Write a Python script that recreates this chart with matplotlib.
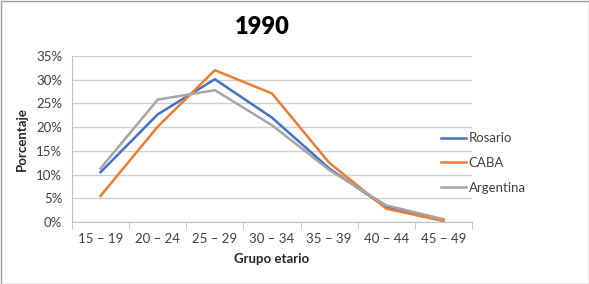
import numpy as np
import matplotlib.pyplot as plt
from matplotlib.patches import Rectangle

grupos = ["15 – 19", "20 – 24", "25 – 29", "30 – 34", "35 – 39", "40 – 44", "45 – 49"]
rosario = [10.5, 22.7, 30.1, 22.0, 11.3, 3.1, 0.4]
caba = [5.5, 20.1, 32.0, 27.1, 12.5, 2.8, 0.2]
argentina = [11.3, 25.8, 27.8, 20.4, 11.0, 3.5, 0.6]

plt.rcParams['font.family'] = ['Lato', 'DejaVu Sans']

fig = plt.figure(figsize=(5.89, 2.84), dpi=100)
ax = fig.add_axes([72/589, 1 - 222/284, 400/589, 166/284])

x = np.arange(len(grupos))
ax.plot(x, rosario, color="#4472C4", lw=1.8, label="Rosario")
ax.plot(x, caba, color="#ED7D31", lw=1.8, label="CABA")
ax.plot(x, argentina, color="#A5A5A5", lw=1.8, label="Argentina")

ax.set_xlim(-0.5, 6.5)
ax.set_ylim(0, 35)
ax.set_yticks(range(0, 36, 5))
ax.set_yticklabels([f"{v}%" for v in range(0, 36, 5)])
ax.set_xticks(x)
ax.set_xticklabels(grupos)
ax.set_xticks(np.arange(-0.5, 7, 1), minor=True)
ax.tick_params(axis='x', which='major', length=0, pad=8, labelsize=9.5, labelcolor="#404040")
ax.tick_params(axis='x', which='minor', length=5, color="#BFBFBF")
ax.tick_params(axis='y', length=0, pad=7, labelsize=9.5, labelcolor="#404040")
ax.grid(axis='y', color="#D0D0D0", lw=1)
ax.set_axisbelow(True)
for s in ['top', 'right']:
    ax.spines[s].set_visible(False)
for s in ['left', 'bottom']:
    ax.spines[s].set_color("#BFBFBF")

ax.set_xlabel("Grupo etario", fontsize=9.5, fontweight='bold', color="#262626", labelpad=6)
ax.set_ylabel("Porcentaje", fontsize=9.5, fontweight='bold', color="#262626", labelpad=6)
fig.text(262/589, 1 - 27/284, "1990", ha='center', va='center', fontsize=17, fontweight='heavy')

ax.legend(loc='center left', bbox_to_anchor=(429/589, 1 - 163/284), bbox_transform=fig.transFigure,
          frameon=False, fontsize=9.5, handlelength=1.9, handletextpad=0.2, labelspacing=0.95, labelcolor="#404040")

fig.patches.append(Rectangle((0.5/589, 0.5/284), 1 - 1/589, 1 - 1/284, transform=fig.transFigure,
                             fill=False, edgecolor="#A0A0A0", lw=1))

fig.savefig("out.png", dpi=100)
